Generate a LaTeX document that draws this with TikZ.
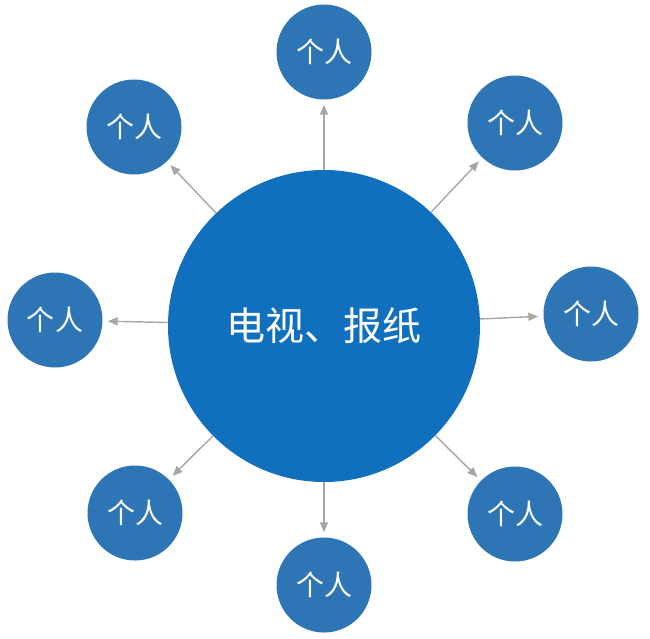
\documentclass[tikz,border=0pt]{standalone}
\usepackage{fontspec}
\newfontfamily\cjk{Noto Sans CJK SC}
\definecolor{hubblue}{HTML}{1170BD}
\definecolor{nodeblue}{HTML}{2E75B6}
\definecolor{arrgray}{HTML}{A6A6A6}
\usetikzlibrary{arrows.meta}
\tikzset{
  hub/.style={circle, fill=hubblue, minimum size=312pt, inner sep=0pt, text=white, font=\cjk\fontsize{39}{42}\selectfont},
  person/.style={circle, fill=nodeblue, minimum size=95pt, inner sep=0pt, text=white, font=\cjk\fontsize{28}{32}\selectfont},
  arr/.style={draw=arrgray, line width=1.4pt, -{Triangle[length=10pt,width=8pt]}, shorten >=5pt}
}
\begin{document}
\begin{tikzpicture}[x=1pt,y=-1pt]
\useasboundingbox (0,0) rectangle (650,638);
\node[hub] (c) at (324,326) {电视、报纸};
\node[person] (p1) at (324,52) {个人};
\node[person] (p2) at (515,123) {个人};
\node[person] (p3) at (591,314) {个人};
\node[person] (p4) at (515,514) {个人};
\node[person] (p5) at (324,585) {个人};
\node[person] (p6) at (135,513) {个人};
\node[person] (p7) at (55,320) {个人};
\node[person] (p8) at (134,127) {个人};
\foreach \p in {p1,p2,p3,p4,p5,p6,p7,p8}{
  \draw[arr] (c) -- (\p);
}
\end{tikzpicture}
\end{document}
